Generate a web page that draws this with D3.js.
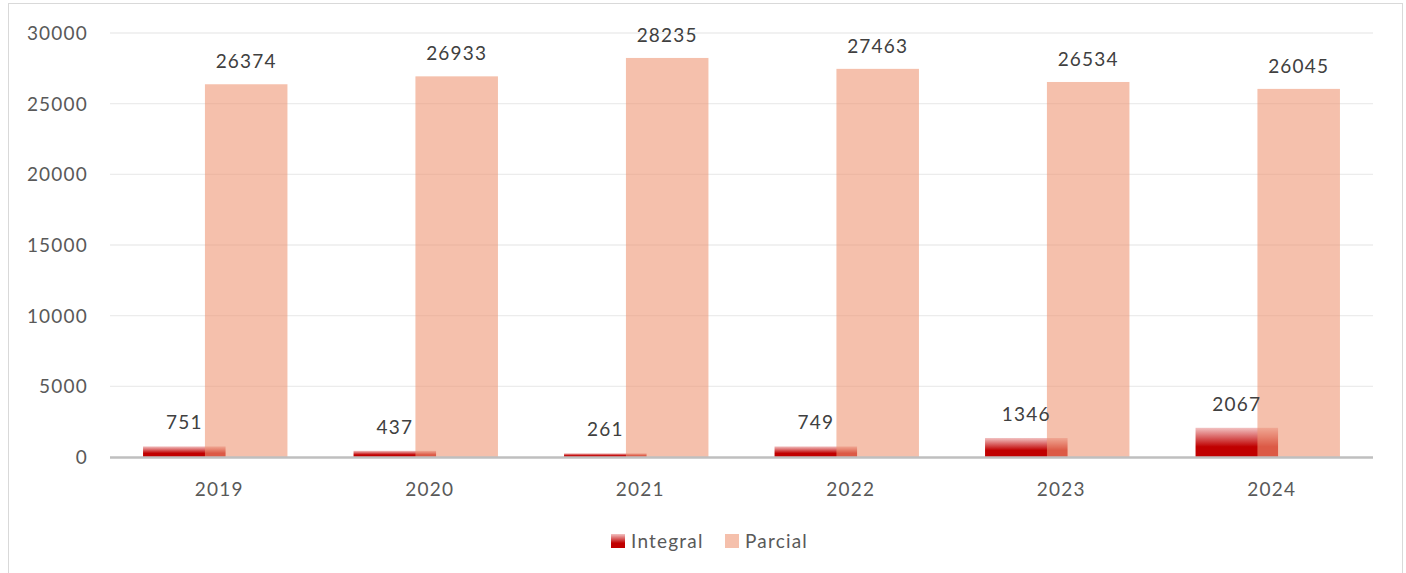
<!DOCTYPE html>
<html>
<head>
<meta charset="utf-8">
<script src="https://cdn.jsdelivr.net/npm/d3@7"></script>
<style>
  body { margin: 0; background: #fff; }
  text { font-family: Lato, "Open Sans", sans-serif; }
</style>
</head>
<body>
<script>
'use strict';

// chart data
const years = ["2019", "2020", "2021", "2022", "2023", "2024"];
const integral = [751, 437, 261, 749, 1346, 2067];
const parcial = [26374, 26933, 28235, 27463, 26534, 26045];
const yTicks = [0, 5000, 10000, 15000, 20000, 25000, 30000];
const seriesNames = ["Integral", "Parcial"];

const W = 1406, H = 573;
const plot = { left: 110, right: 1373, top: 33, bottom: 457 };
const fontSize = '19px';
const spacing = '1.2px';

const svg = d3.select('body').append('svg')
  .attr('width', W)
  .attr('height', H);

// gradient for Integral bars (light at top, dark red at bottom)
const defs = svg.append('defs');
const grad = defs.append('linearGradient')
  .attr('id', 'intGrad')
  .attr('x1', 0).attr('y1', 0).attr('x2', 0).attr('y2', 1);
grad.append('stop').attr('offset', '0%').attr('stop-color', '#f2c2c2');
grad.append('stop').attr('offset', '65%').attr('stop-color', '#c00000');
grad.append('stop').attr('offset', '100%').attr('stop-color', '#c00000');

// outer border
svg.append('rect')
  .attr('x', 8.5).attr('y', 3.5)
  .attr('width', 1394).attr('height', 600)
  .attr('fill', 'none')
  .attr('stroke', '#d9d9d9')
  .attr('stroke-width', 1);

const x = d3.scaleBand()
  .domain(years)
  .range([plot.left, plot.right])
  .padding(0);

const y = d3.scaleLinear()
  .domain([0, 30000])
  .range([plot.bottom, plot.top]);

const bw = x.bandwidth();
const barW = bw * 0.392;
const overlap = bw * 0.098;
// left edge of each series bar relative to band centre
const intOff = -(barW * 2 - overlap) / 2;
const parOff = intOff + barW - overlap;

// gridlines
svg.append('g')
  .selectAll('line')
  .data(yTicks.filter(d => d > 0))
  .enter()
  .append('line')
    .attr('x1', plot.left).attr('x2', plot.right)
    .attr('y1', d => y(d)).attr('y2', d => y(d))
    .attr('stroke', '#ececec')
    .attr('stroke-width', 1.3);

// y tick labels
svg.append('g')
  .selectAll('text')
  .data(yTicks)
  .enter()
  .append('text')
    .attr('x', 88)
    .attr('y', d => y(d))
    .attr('dy', '0.36em')
    .attr('text-anchor', 'end')
    .style('font-size', fontSize)
    .style('letter-spacing', spacing)
    .attr('fill', '#595959')
    .text(d => d);

const centre = d => x(d) + bw / 2;

// Integral bars
svg.append('g')
  .selectAll('rect')
  .data(years)
  .enter()
  .append('rect')
    .attr('x', d => centre(d) + intOff)
    .attr('y', (d, i) => y(integral[i]))
    .attr('width', barW)
    .attr('height', (d, i) => y(0) - y(integral[i]))
    .attr('fill', 'url(#intGrad)');

// Parcial bars (semi-transparent, drawn in front)
svg.append('g')
  .selectAll('rect')
  .data(years)
  .enter()
  .append('rect')
    .attr('x', d => centre(d) + parOff)
    .attr('y', (d, i) => y(parcial[i]))
    .attr('width', barW)
    .attr('height', (d, i) => y(0) - y(parcial[i]))
    .attr('fill', '#ee9674')
    .attr('fill-opacity', 0.6);

// zero axis line
svg.append('line')
  .attr('x1', plot.left).attr('x2', plot.right)
  .attr('y1', y(0) + 0.5).attr('y2', y(0) + 0.5)
  .attr('stroke', '#bfbfbf')
  .attr('stroke-width', 2.5);

// value labels
const labelStyle = sel => sel
  .attr('text-anchor', 'middle')
  .style('font-size', fontSize)
  .style('letter-spacing', spacing)
  .attr('fill', '#404040');

svg.append('g')
  .selectAll('text')
  .data(years)
  .enter()
  .append('text')
    .attr('x', d => centre(d) + intOff + barW / 2)
    .attr('y', (d, i) => y(integral[i]) - 17)
    .text((d, i) => integral[i])
    .call(labelStyle);

svg.append('g')
  .selectAll('text')
  .data(years)
  .enter()
  .append('text')
    .attr('x', d => centre(d) + parOff + barW / 2)
    .attr('y', (d, i) => y(parcial[i]) - 16)
    .text((d, i) => parcial[i])
    .call(labelStyle);

// x category labels
svg.append('g')
  .selectAll('text')
  .data(years)
  .enter()
  .append('text')
    .attr('x', d => centre(d) + 4)
    .attr('y', 496)
    .attr('text-anchor', 'middle')
    .style('font-size', fontSize)
    .style('letter-spacing', spacing)
    .attr('fill', '#595959')
    .text(d => d);

// legend
const legend = svg.append('g');
const legendItems = [
  { name: seriesNames[0], x: 611, fill: 'url(#intGrad)', op: 1 },
  { name: seriesNames[1], x: 725, fill: '#ee9674', op: 0.6 }
];
legendItems.forEach(item => {
  legend.append('rect')
    .attr('x', item.x).attr('y', 534)
    .attr('width', 14).attr('height', 14)
    .attr('fill', item.fill)
    .attr('fill-opacity', item.op);
  legend.append('text')
    .attr('x', item.x + 20)
    .attr('y', 548)
    .style('font-size', fontSize)
    .style('letter-spacing', spacing)
    .attr('fill', '#595959')
    .text(item.name);
});
</script>
</body>
</html>
